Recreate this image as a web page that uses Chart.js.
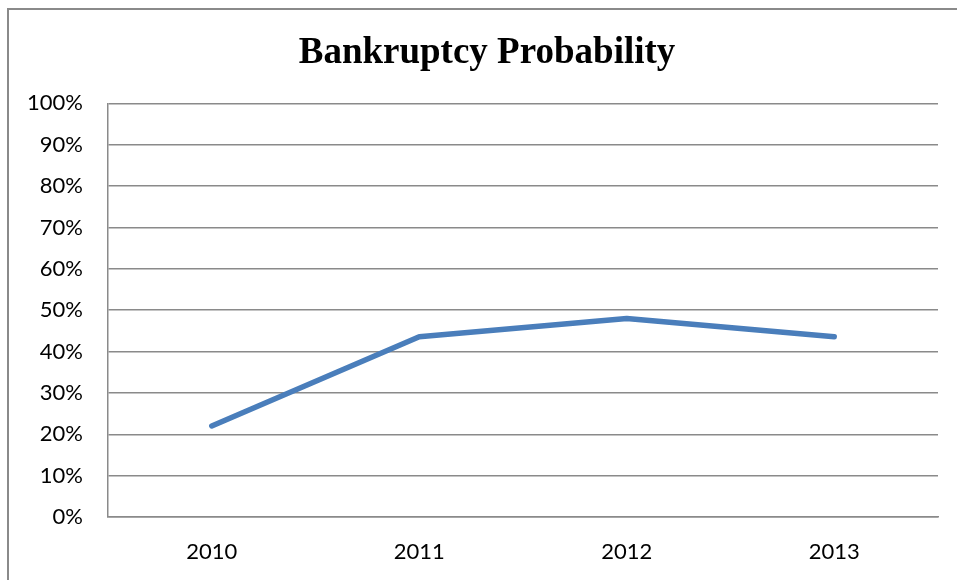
<!DOCTYPE html>
<html>
<head>
<meta charset="utf-8">
<script src="https://cdn.jsdelivr.net/npm/chart.js@4"></script>
<style>
  body { margin: 0; background: #fff; overflow: hidden; }
  #frame { position: absolute; left: 7px; top: 8px; width: 1000px; height: 620px;
           border-left: 2px solid #8a8a8a; border-top: 2px solid #8a8a8a; }
  #wrap { position: absolute; left: 0; top: 0; width: 957px; height: 580px; }
</style>
</head>
<body>
<div id="frame"></div>
<div id="wrap"><canvas id="myChart" width="957" height="580"></canvas></div>
<script>
var years = ['2010', '2011', '2012', '2013']
var bankruptcyProb = [22, 43.6, 48, 43.6]

var gridGrey = '#8a8a8a'

var ctx = document.getElementById('myChart').getContext('2d');
var myChart = new Chart(ctx, {
   type: 'line',
   data: {
        labels: years,
        datasets: [{
          label: 'Bankruptcy Probability',
          borderColor: '#4a7ebb',
          borderWidth: 5.5,
          borderCapStyle: 'round',
          borderJoinStyle: 'round',
          pointRadius: 0,
          tension: 0,
          data: bankruptcyProb,
          fill: false
        }]
   },
   options: {
        responsive: false,
        animation: false,
        layout: { padding: { left: 36, right: 19, top: 31, bottom: 0 } },
        plugins: {
          legend: { display: false },
          tooltip: { enabled: false },
          title: {
            display: true,
            text: 'Bankruptcy Probability',
            color: '#000',
            font: { family: 'Liberation Serif', size: 37, weight: 'bold' },
            padding: { top: 0, bottom: 28 }
          }
        },
        scales: {
          x: {
            offset: true,
            grid: { display: false, drawTicks: false },
            border: { display: true, color: gridGrey, width: 1.5 },
            ticks: { color: '#000', padding: 22, font: { family: 'Lato', size: 22 } },
            afterFit: function (s) { s.height = 63; }
          },
          y: {
            min: 0,
            max: 100,
            grid: { color: gridGrey, lineWidth: 1.5, drawTicks: false },
            border: { display: true, color: gridGrey, width: 1.5 },
            ticks: {
              stepSize: 10,
              color: '#000',
              padding: 25,
              font: { family: 'Lato', size: 22 },
              callback: function (v) { return v + '%'; }
            },
            afterFit: function (s) {
              s.width = 72;
              // labels like "100%" reach left of the axis box, don't clip them
              s._computeLabelArea = function () {};
            }
          }
        }
   }
});
</script>
</body>
</html>
